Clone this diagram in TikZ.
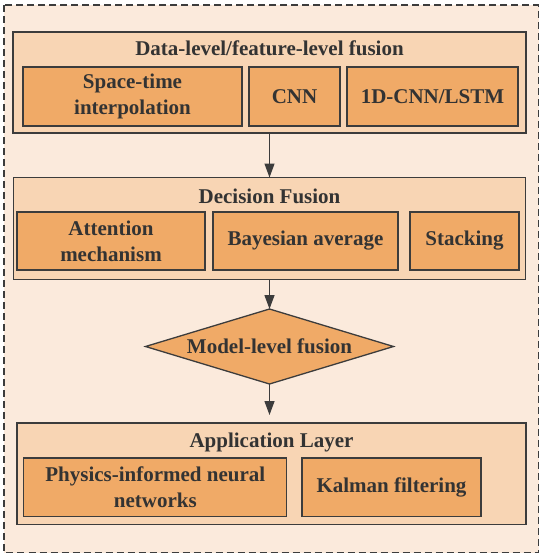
\documentclass[tikz,border=0pt]{standalone}
\usepackage{fontspec}
\setmainfont{Liberation Serif}
\usetikzlibrary{arrows.meta,shapes.geometric}
\definecolor{bgc}{HTML}{FBEADC}
\definecolor{panelc}{HTML}{F8D5B4}
\definecolor{boxc}{HTML}{F0AA67}
\definecolor{linec}{HTML}{3C3C3C}
\definecolor{txtc}{HTML}{333333}
\tikzset{
  panel/.style={draw=linec, line width=1.3pt, fill=panelc, inner sep=0pt, outer sep=0pt},
  box/.style={draw=linec, line width=1.3pt, fill=boxc, inner sep=0pt, outer sep=0pt,
    text=txtc, font=\fontsize{21}{26}\selectfont\bfseries, align=center},
  title/.style={text=txtc, font=\fontsize{21}{26}\selectfont\bfseries, inner sep=0pt},
  dia/.style={diamond, aspect=3.3, draw=linec, line width=1.3pt, fill=boxc, inner sep=0pt, outer sep=0pt,
    text=txtc, font=\fontsize{21}{26}\selectfont\bfseries},
  arr/.style={draw=linec, line width=1.3pt, -{Triangle[length=14pt,width=10pt]}},
  outerbox/.style={draw=linec, line width=1.2pt, dash pattern=on 7pt off 4pt, fill=bgc}
}
\begin{document}
\begin{tikzpicture}[x=1pt,y=-1pt]
\useasboundingbox (0,0) rectangle (544,557);
\draw[outerbox] (4,5) rectangle (538.5,552.5);

% panel 1
\node[panel, minimum width=513pt, minimum height=101pt] (p1) at (269.5,82.5) {};
\node[title] (t1) at (269.5,48) {Data-level/feature-level fusion};
\node[box, minimum width=219pt, minimum height=59pt] (a1) at (132.5,96.5) {Space-time\\interpolation};
\node[box, minimum width=91pt, minimum height=59pt] (a2) at (294.5,96.5) {CNN};
\node[box, minimum width=171pt, minimum height=59pt] (a3) at (432.5,96.5) {1D-CNN/LSTM};

% panel 2
\node[panel, minimum width=512pt, minimum height=102pt] (p2) at (269.5,228.5) {};
\node[title] (t2) at (269.5,196) {Decision Fusion};
\node[box, minimum width=188pt, minimum height=58pt] (b1) at (111,241) {Attention\\mechanism};
\node[box, minimum width=185pt, minimum height=58pt] (b2) at (305.5,241) {Bayesian average};
\node[box, minimum width=109pt, minimum height=58pt] (b3) at (464.5,241) {Stacking};

% diamond
\node[dia, minimum width=248pt, minimum height=75pt] (m) at (269.5,346.5) {Model-level fusion};

% panel 4
\node[panel, minimum width=509pt, minimum height=101.5pt] (p4) at (271.5,473.75) {};
\node[title] (t4) at (271.5,442) {Application Layer};
\node[box, minimum width=263pt, minimum height=58.5pt] (c1) at (155.3,487.25) {Physics-informed neural\\networks};
\node[box, minimum width=179pt, minimum height=58.5pt] (c2) at (391.5,487.25) {Kalman filtering};

% arrows
\draw[arr] (p1.south) -- (p2.north);
\draw[arr] (p2.south) -- (m.north);
\draw[arr, shorten >=8pt] (m.south) -- (m.south |- p4.north);
\end{tikzpicture}
\end{document}
